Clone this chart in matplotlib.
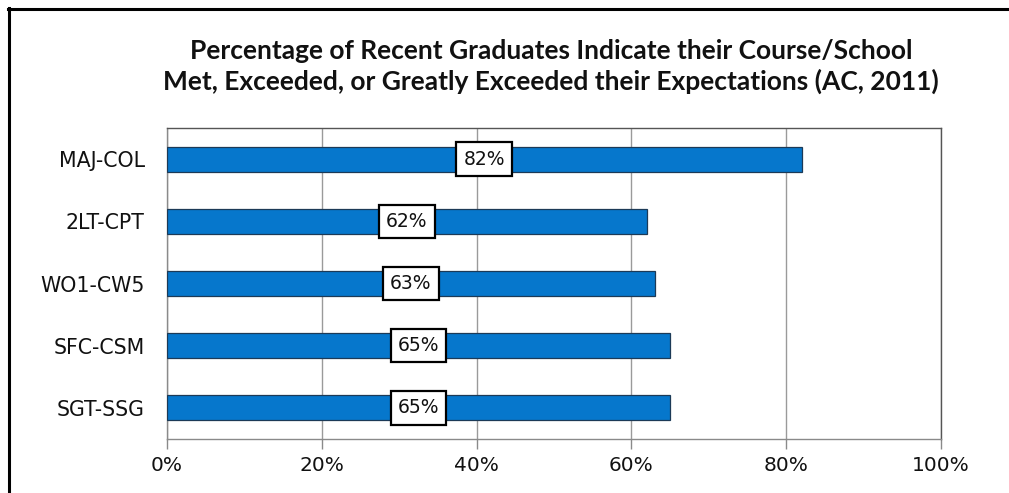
import matplotlib
matplotlib.use("Agg")
import matplotlib.pyplot as plt
from matplotlib.lines import Line2D
from matplotlib.ticker import FuncFormatter, MultipleLocator

# Survey results, listed top to bottom as shown
categories = ["MAJ-COL", "2LT-CPT", "WO1-CW5", "SFC-CSM", "SGT-SSG"]
values = [82, 62, 63, 65, 65]
title = ("Percentage of Recent Graduates Indicate their Course/School\n"
         "Met, Exceeded, or Greatly Exceeded their Expectations (AC, 2011)")

W, H = 1009, 493
fig = plt.figure(figsize=(W / 100, H / 100), dpi=100)
fig.patch.set_facecolor("white")

ax = fig.add_axes([167 / W, 1 - 439 / H, (941 - 167) / W, (439 - 128) / H])

ypos = list(range(len(categories)))[::-1]
bars = ax.barh(ypos, values, height=0.4, color="#0677CC",
               edgecolor="#1C3A57", linewidth=0.9, zorder=3)

for y, v in zip(ypos, values):
    ax.text(v / 2, y, f"{v}%", ha="center", va="center", fontsize=13.5,
            family="DejaVu Sans", color="#111111", zorder=5,
            bbox=dict(boxstyle="square,pad=0.38", facecolor="white",
                      edgecolor="black", linewidth=1.6))

ax.set_xlim(0, 100)
ax.set_ylim(-0.5, len(categories) - 0.5)
ax.xaxis.set_major_locator(MultipleLocator(20))
ax.xaxis.set_major_formatter(FuncFormatter(lambda x, _: f"{x:.0f}%"))
ax.set_yticks(ypos)
ax.set_yticklabels(categories)

ax.grid(axis="x", color="#9a9a9a", linewidth=1.0, zorder=0)
ax.set_axisbelow(True)
for side, sp in ax.spines.items():
    sp.set_color("#555555" if side in ("top", "right") else "#8a8a8a")
    sp.set_linewidth(1.0)

ax.tick_params(axis="x", direction="out", length=7, width=1.0,
               color="#8a8a8a", pad=5, labelsize=14.5, labelcolor="#111111")
ax.tick_params(axis="y", length=0, pad=16, labelsize=14.8,
               labelcolor="#111111")
for lab in ax.get_xticklabels() + ax.get_yticklabels():
    lab.set_family("DejaVu Sans")

fig.text(551 / W, 1 - 66.5 / H, title, ha="center", va="center",
         family="Lato", fontweight="bold", fontsize=19, color="#111111",
         linespacing=1.25)

# Outer frame (left and top edges)
fig.add_artist(Line2D([8.5 / W, 8.5 / W], [0, 1 - 8 / H],
                      transform=fig.transFigure, color="black", linewidth=2.2))
fig.add_artist(Line2D([8 / W, 1], [1 - 8.5 / H, 1 - 8.5 / H],
                      transform=fig.transFigure, color="black", linewidth=2.2))

fig.savefig("out.png", dpi=100, facecolor="white")
